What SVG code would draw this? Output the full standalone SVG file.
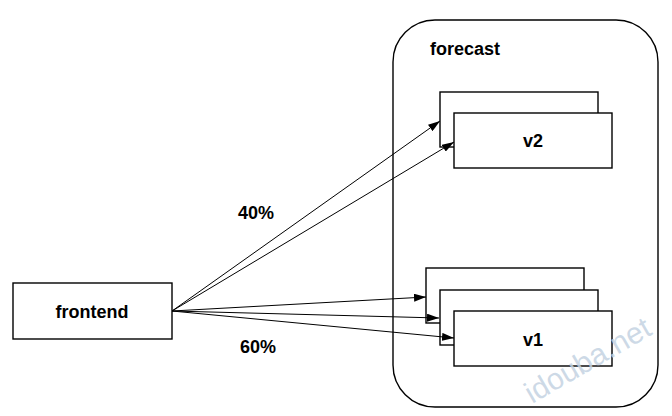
<svg xmlns="http://www.w3.org/2000/svg" width="672" height="416" viewBox="0 0 672 416">
<defs>
<style>
.box{fill:#fff;stroke:#000;stroke-width:1.4}
.lbl{font-family:"Liberation Sans",Arial,sans-serif;font-weight:bold;font-size:18px;fill:#000}
.edge{stroke:#000;stroke-width:1;fill:none;marker-end:url(#ah)}
</style>
<marker id="ah" viewBox="0 0 12 8" refX="12" refY="4" markerWidth="12" markerHeight="8" markerUnits="userSpaceOnUse" orient="auto">
<path d="M0,0 L12,4 L0,8 Z" fill="#000"/>
</marker>
</defs>
<rect width="672" height="416" fill="#fff"/>
<g id="forecast">
<rect class="box" x="393" y="20" width="265" height="387" rx="42" ry="42"/>
<text class="lbl" x="430" y="55">forecast</text>
</g>
<g id="v2">
<rect class="box" x="440" y="92" width="158" height="55"/>
<rect class="box" x="454" y="113" width="158" height="55"/>
<text class="lbl" x="533" y="147" text-anchor="middle">v2</text>
</g>
<g id="v1">
<rect class="box" x="426" y="268" width="158" height="55"/>
<rect class="box" x="440" y="290" width="158" height="55"/>
<rect class="box" x="454" y="311" width="158" height="55"/>
<text class="lbl" x="533" y="346" text-anchor="middle">v1</text>
</g>
<g id="frontend">
<rect class="box" x="13" y="283" width="159" height="56"/>
<text class="lbl" x="92" y="318" text-anchor="middle">frontend</text>
</g>
<g id="connectors">
<line class="edge" x1="172" y1="311" x2="440" y2="121"/>
<line class="edge" x1="172" y1="311" x2="454" y2="142"/>
<line class="edge" x1="172" y1="311" x2="426" y2="297"/>
<line class="edge" x1="172" y1="311" x2="439" y2="318"/>
<line class="edge" x1="172" y1="311" x2="454" y2="338"/>
<text class="lbl" x="256" y="219" text-anchor="middle">40%</text>
<text class="lbl" x="258" y="353" text-anchor="middle">60%</text>
</g>
<text x="532" y="404" transform="rotate(-30 532 404)" font-family="'Liberation Sans',Arial,sans-serif" font-size="30" fill="#c4d3e2" fill-opacity="0.85">idouba.net</text>
</svg>
